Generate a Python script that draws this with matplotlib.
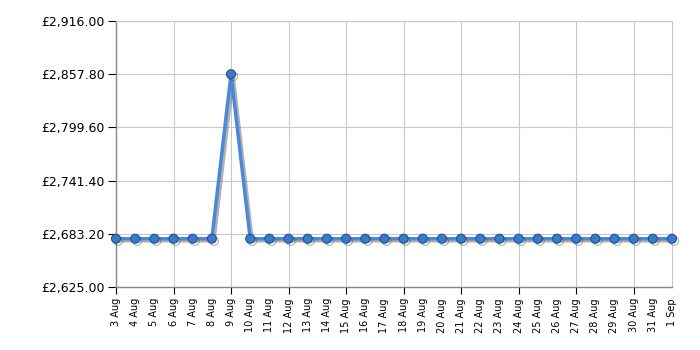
import matplotlib
matplotlib.use("Agg")
import matplotlib.pyplot as plt
import matplotlib.patheffects as pe
from matplotlib.ticker import FuncFormatter

dates = ["3 Aug", "4 Aug", "5 Aug", "6 Aug", "7 Aug", "8 Aug", "9 Aug", "10 Aug",
         "11 Aug", "12 Aug", "13 Aug", "14 Aug", "15 Aug", "16 Aug", "17 Aug",
         "18 Aug", "19 Aug", "20 Aug", "21 Aug", "22 Aug", "23 Aug", "24 Aug",
         "25 Aug", "26 Aug", "27 Aug", "28 Aug", "29 Aug", "30 Aug", "31 Aug", "1 Sep"]
prices = [2677.80] * 6 + [2857.80] + [2677.80] * 23
y_ticks = [2625.00, 2683.20, 2741.40, 2799.60, 2857.80, 2916.00]

fig = plt.figure(figsize=(7, 3.5), dpi=100)
ax = fig.add_axes([116 / 700, 1 - 287 / 350, (672 - 116) / 700, (287 - 21) / 350])

x = list(range(len(dates)))
ax.plot(x, prices, color="#4a88dc", linewidth=2.5, marker="o", markersize=6.5,
        markerfacecolor="#3b79c9", markeredgecolor="#24538f", markeredgewidth=0.8,
        zorder=3, clip_on=False,
        path_effects=[pe.SimpleLineShadow(offset=(1.5, -1.5), shadow_color="#555555", alpha=0.45),
                      pe.Normal()])

ax.set_xlim(0, len(dates) - 1)
ax.set_ylim(y_ticks[0], y_ticks[-1])
ax.set_yticks(y_ticks)
ax.yaxis.set_major_formatter(FuncFormatter(lambda v, p: "£{:,.2f}".format(v)))

ax.set_xticks(x)
ax.set_xticklabels(dates, rotation=90, fontsize=7)
for i, t in enumerate(ax.xaxis.get_major_ticks()):
    if i % 3 != 0:
        t.tick1line.set_visible(False)

ax.tick_params(axis="y", labelsize=9, length=6, color="black", pad=2)
ax.tick_params(axis="x", length=5, color="black", pad=3)

# gridlines: every horizontal tick, every third day vertically
for v in y_ticks:
    ax.axhline(v, color="#c8c8c8", linewidth=0.8, zorder=0)
for i in x[::3]:
    ax.axvline(i, color="#c8c8c8", linewidth=0.8, zorder=0)

for side in ["top", "right"]:
    ax.spines[side].set_color("#c8c8c8")
    ax.spines[side].set_linewidth(0.8)
for side in ["left", "bottom"]:
    ax.spines[side].set_color("#888888")
    ax.spines[side].set_linewidth(1)

fig.savefig("out.png", dpi=100)
